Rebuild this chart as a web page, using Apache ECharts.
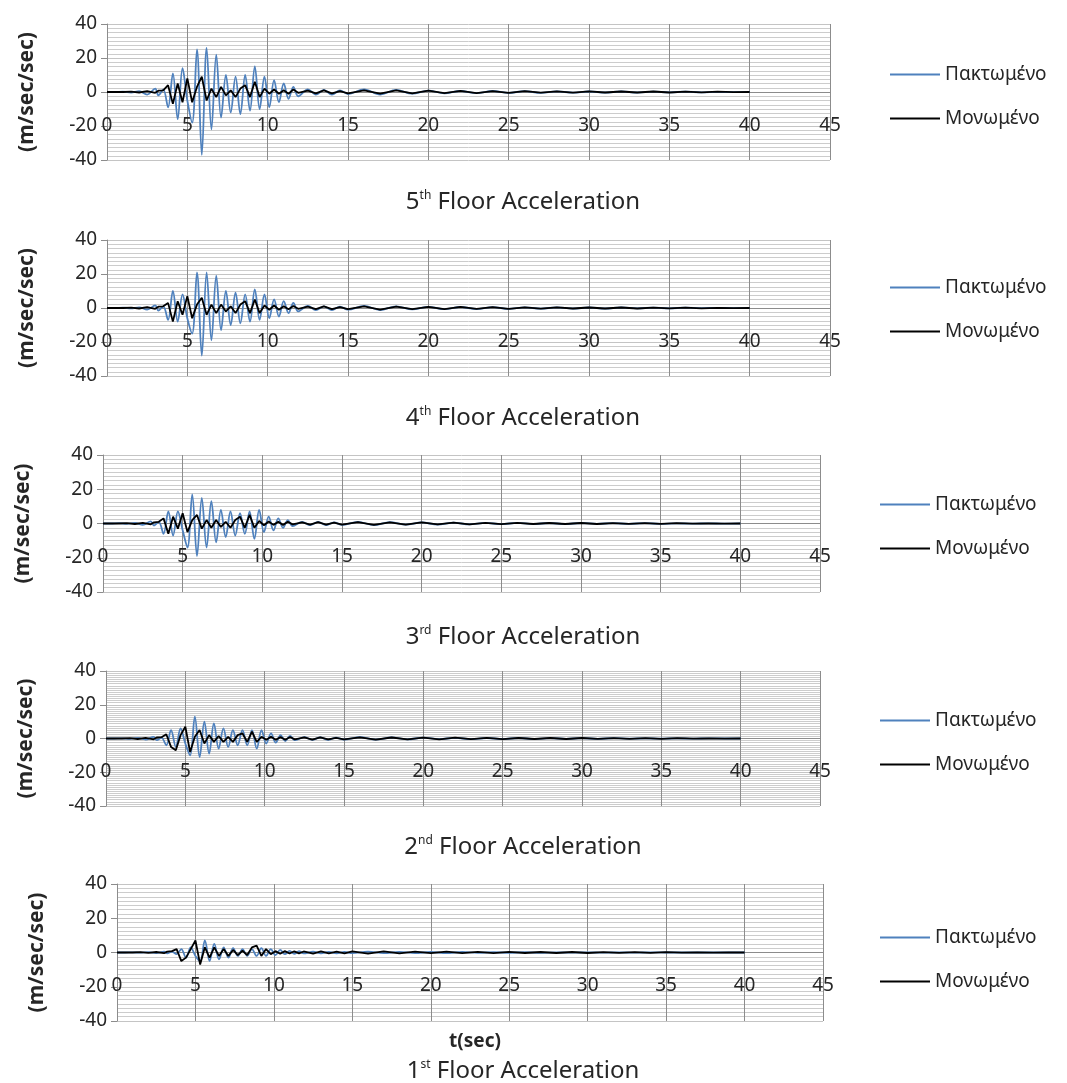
<!DOCTYPE html>
<html><head><meta charset="utf-8">
<script src="https://cdn.jsdelivr.net/npm/echarts@6/dist/echarts.min.js"></script>
<style>html,body{margin:0;padding:0;background:#fff}#c{width:1067px;height:1083px}</style>
</head><body><div id="c"></div>
<script>
// time samples (s)
const time = [0,0.5,1,1.5,2,2.5,3,3.2,3.5,3.8,4.1,4.4,4.7,5.0,5.3,5.6,5.9,6.2,6.5,6.8,7.1,7.4,7.7,8.0,8.3,8.6,8.9,9.2,9.5,9.8,10.1,10.4,10.7,11.0,11.3,11.6,11.9,12.5,13,13.5,14,14.5,15,16,17,18,19,20,21,22,23,24,25,26,27,28,29,30,31,32,33,34,35,36,37,38,39,40];

// 5th floor
const fixed5 = [0,0,0.2,-0.3,0.5,-1.5,2,-2,1.5,-9,11,-16,14,-5,-18,25,-37,26,-22,22,-15,10,-12,9,-13,10,-11,15,-10,9,-9,7,-6,5,-4,3,-2.5,1.5,-1.5,1.2,-1.5,1,-1.2,1.5,-1.5,1.2,-1,0.8,-0.8,0.6,-0.7,0.6,-0.5,0.5,-0.5,0.4,-0.4,0.3,-0.3,0.3,-0.3,0.2,-0.2,0.2,-0.2,0.1,-0.1,0];
const iso5 = [0,0,0,0.2,-0.3,0.5,-0.5,0.8,1,4,-7,5,-6,8,-6,3,9,-5,2,-3,3,-2,1,-3,2,4,-3,6,-3,2,-1,1.5,-1,1,-1,1.5,-0.5,0.8,-0.8,1,-0.8,0.5,-0.8,1,-1,1,-0.8,0.8,-0.6,0.7,-0.6,0.5,-0.5,0.5,-0.4,0.4,-0.4,0.4,-0.3,0.3,-0.3,0.3,-0.3,0.2,-0.2,0.2,-0.1,0];
// 4th floor
const fixed4 = [0,0,0.2,-0.2,0.4,-1,1.5,-1.5,1,-7,10,-8,8,-6,-15,21,-28,21,-19,19,-13,10,-10,9,-9,8,-8,11,-7,8,-6,5,-5,4,-3,3,-2,1.2,-1.2,1,-1.2,0.8,-1,1.2,-1.2,1,-0.8,0.7,-0.7,0.6,-0.6,0.5,-0.5,0.4,-0.4,0.4,-0.3,0.3,-0.3,0.3,-0.2,0.2,-0.2,0.2,-0.1,0.1,-0.1,0];
const iso4 = [0,0,0,0.2,-0.3,0.5,-0.5,0.8,1,3,-8,4,-4,7,-6,2,6,-4,2,-3,2,-2,1,-3,2,4,-3,5,-3,1.5,-1,1.5,-1,1,-0.8,1.2,-0.5,0.8,-0.7,0.9,-0.7,0.5,-0.7,0.9,-0.9,0.8,-0.7,0.7,-0.6,0.6,-0.5,0.5,-0.5,0.4,-0.4,0.4,-0.3,0.3,-0.3,0.3,-0.3,0.2,-0.2,0.2,-0.2,0.1,-0.1,0];
// 3rd floor
const fixed3 = [0,0,0.2,-0.2,0.3,-0.8,1.2,-1.2,1,-6,7,-7,7,-4,-14,17,-19,15,-14,13,-11,8,-8,7,-7,6,-6,7,-9,8,-5,4,-4,3,-2.5,2,-1.5,1,-1,0.9,-1,0.7,-0.8,1,-1,0.8,-0.7,0.6,-0.6,0.5,-0.5,0.4,-0.4,0.4,-0.3,0.3,-0.3,0.3,-0.2,0.2,-0.2,0.2,-0.2,0.1,-0.1,0.1,-0.1,0];
const iso3 = [0,0,0,0.2,-0.3,0.4,-0.5,0.7,1,3,-6,4,-3,6,-5,2,5,-3,2,-2.5,2,-2,1,-2.5,2,4,-2.5,5,-2.5,1.5,-1,1.2,-0.8,1,-0.8,1,-0.5,0.7,-0.6,0.8,-0.6,0.5,-0.6,0.8,-0.8,0.7,-0.6,0.6,-0.5,0.5,-0.5,0.4,-0.4,0.4,-0.3,0.3,-0.3,0.3,-0.3,0.2,-0.2,0.2,-0.2,0.2,-0.1,0.1,-0.1,0];
// 2nd floor
const fixed2 = [0,0,0.1,-0.2,0.3,-0.6,1,-1,0.5,-4,5,-5,6,-3,-10,13,-11,10,-9,9,-6,6,-5,5,-4,5,-4,5,-6,5,-3,3,-2.5,2,-1.5,1.5,-1,0.8,-0.8,0.7,-0.8,0.5,-0.6,0.8,-0.7,0.6,-0.5,0.5,-0.4,0.4,-0.4,0.3,-0.3,0.3,-0.3,0.2,-0.2,0.2,-0.2,0.2,-0.1,0.1,-0.1,0.1,-0.1,0.1,0,0];
const iso2 = [0,0,0,0.2,-0.3,0.4,-0.5,0.6,0.8,2.5,-5,-7,2,7,-8,1,5,-3,2,-2,1.5,-2,1,-2,2,3,-2,4,-2,1,-0.8,1,-0.7,0.8,-0.7,0.9,-0.5,0.6,-0.6,0.7,-0.5,0.4,-0.5,0.7,-0.7,0.6,-0.5,0.5,-0.5,0.5,-0.4,0.4,-0.4,0.3,-0.3,0.3,-0.3,0.3,-0.2,0.2,-0.2,0.2,-0.2,0.2,-0.1,0.1,-0.1,0];
// 1st floor
const fixed1 = [0,0,0.1,-0.1,0.2,-0.3,0.5,-0.5,0.5,-1,2,-3,3,-2,-5,7,-5,5,-4,3,-3,2.5,-2,2,-2,2,-2,2.5,-2,2,-1.5,1.5,-1,1,-0.8,0.8,-0.5,0.5,-0.5,0.4,-0.5,0.3,-0.4,0.5,-0.4,0.4,-0.3,0.3,-0.3,0.3,-0.2,0.2,-0.2,0.2,-0.2,0.1,-0.1,0.1,-0.1,0.1,-0.1,0.1,0,0,0,0,0,0];
const iso1 = [0,0,0,0.2,-0.2,0.3,-0.4,0.5,0.8,2,-5,-3,2,7,-7,3,-3,3,-2,2,-2,1.5,-1.5,1,-1.5,3,4,-2,2,-1,0.8,-0.7,0.8,-0.6,0.7,-0.5,0.6,-0.6,0.7,-0.5,0.5,-0.5,0.6,-0.6,0.7,-0.5,0.5,-0.4,0.5,-0.4,0.4,-0.4,0.4,-0.3,0.3,-0.3,0.3,-0.3,0.2,-0.2,0.2,-0.2,0.2,-0.1,0.1,-0.1,0.1,0];

const fixedName = 'Πακτωμένο';
const isoName = 'Μονωμένο';
const floors = [
  {num:'5', sup:'th', fixed:fixed5, iso:iso5},
  {num:'4', sup:'th', fixed:fixed4, iso:iso4},
  {num:'3', sup:'rd', fixed:fixed3, iso:iso3},
  {num:'2', sup:'nd', fixed:fixed2, iso:iso2},
  {num:'1', sup:'st', fixed:fixed1, iso:iso1}
];
const yTicks = [-40, 40, 20]; // min, max, interval
const xTicks = [0, 45, 5];

// layout
const grids = [
  {left:107, right:237, top:24, height:136, minor:8, legX:885, legY:60, titleY:185},
  {left:107, right:237, top:240, height:136, minor:8, legX:885, legY:273, titleY:401},
  {left:103, right:247, top:455, height:137, minor:8, legX:875, legY:490, titleY:620},
  {left:106, right:247, top:671, height:135, minor:16, legX:875, legY:706, titleY:830},
  {left:117, right:244, top:884, height:137, minor:8, legX:875, legY:923, titleY:1054}
];
const FONT = 'Noto Sans';
const txt = '#262626';

const option = {
  animation:false,
  backgroundColor:'#fff',
  grid:[], xAxis:[], yAxis:[], series:[], legend:[], title:[]
};
floors.forEach((f,i)=>{
  const g = grids[i];
  option.grid.push({left:g.left, right:g.right, top:g.top, height:g.height, containLabel:false});
  // vertical grid lines
  option.xAxis.push({
    type:'value', gridIndex:i, min:xTicks[0], max:xTicks[1], interval:xTicks[2],
    position:'bottom',
    axisLine:{show:false}, axisTick:{show:false}, axisLabel:{show:false},
    splitLine:{show:true, lineStyle:{color:'#8c8c8c', width:1}}
  });
  option.yAxis.push({
    type:'value', gridIndex:i, min:yTicks[0], max:yTicks[1], interval:yTicks[2],
    name:'(m/sec/sec)', nameLocation:'middle', nameGap:69, nameRotate:90,
    nameTextStyle:{fontFamily:FONT, fontSize:21, fontWeight:'bold', color:txt},
    axisLine:{show:true, onZero:false, lineStyle:{color:'#8c8c8c'}},
    axisTick:{show:true, length:6, lineStyle:{color:'#8c8c8c'}},
    axisLabel:{margin:10, fontFamily:FONT, fontSize:19, color:txt},
    splitLine:{show:true, lineStyle:{color:'#c4c4c4', width:1}},
    minorTick:{show:false, splitNumber:g.minor},
    minorSplitLine:{show:true, lineStyle:{color:'#cccccc', width:1}}
  });
});
// second set of x axes: the horizontal axis crossing at 0, with its labels
floors.forEach((f,i)=>{
  const g = grids[i];
  option.xAxis.push({
    type:'value', gridIndex:i, min:xTicks[0], max:xTicks[1], interval:xTicks[2],
    position:'bottom', offset:-g.height/2,
    axisLine:{show:true, onZero:false, lineStyle:{color:'#8c8c8c', width:1}},
    axisTick:{show:false},
    axisLabel:{margin:24, fontFamily:FONT, fontSize:19, color:txt},
    splitLine:{show:false}
  });
});
floors.forEach((f,i)=>{
  const g = grids[i];
  option.series.push({
    name:fixedName, type:'line', xAxisIndex:i, yAxisIndex:i, symbol:'none', smooth:0.35,
    lineStyle:{color:'#4f81bd', width:1.8}, itemStyle:{color:'#4f81bd'},
    data:time.map((t,k)=>[t, f.fixed[k]])
  });
  option.series.push({
    name:isoName, type:'line', xAxisIndex:i, yAxisIndex:i, symbol:'none',
    lineStyle:{color:'#000', width:1.8}, itemStyle:{color:'#000'},
    data:time.map((t,k)=>[t, f.iso[k]])
  });
  option.legend.push({
    data:[fixedName, isoName], orient:'vertical', left:g.legX, top:g.legY,
    itemWidth:50, itemHeight:2, icon:'rect', itemGap:25,
    textStyle:{fontFamily:FONT, fontSize:19, color:txt},
    selectedMode:false
  });
  option.title.push({
    text:'{a|'+f.num+'}{b|'+f.sup+'}{a| Floor Acceleration}',
    left:518, top:g.titleY, textAlign:'center',
    textStyle:{fontWeight:'normal', rich:{
      a:{fontFamily:FONT, fontSize:24, fontWeight:'normal', color:txt},
      b:{fontFamily:FONT, fontSize:12, fontWeight:'normal', color:txt, padding:[0,0,13,0]}
    }}
  });
});
option.title.push({
  text:'t(sec)', left:470, top:1027, textAlign:'center',
  textStyle:{fontFamily:FONT, fontSize:19, fontWeight:'bold', color:txt}
});

const chart = echarts.init(document.getElementById('c'), null, {renderer:'canvas'});
chart.setOption(option);
</script>
</body></html>
